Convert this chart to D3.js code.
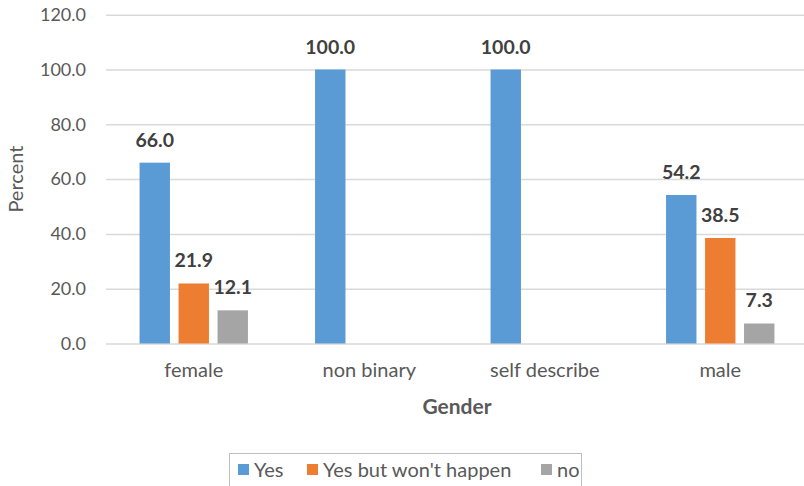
<!DOCTYPE html>
<html>
<head>
<meta charset="utf-8">
<script src="https://cdn.jsdelivr.net/npm/d3@7"></script>
<style>
  html, body { margin: 0; padding: 0; background: #fff; }
  svg { display: block; overflow: hidden; }
  text { font-family: Lato, "Open Sans", sans-serif; }
</style>
</head>
<body>
<svg id="chart" width="804" height="486"></svg>
<script>
// Survey responses by gender (percent)
const categories = ["female", "non binary", "self describe", "male"];
const seriesNames = ["Yes", "Yes but won't happen", "no"];
const yesValues = [66.0, 100.0, 100.0, 54.2];
const wontHappenValues = [21.9, null, null, 38.5];
const noValues = [12.1, null, null, 7.3];
const yTicks = [0, 20, 40, 60, 80, 100, 120];
const colors = ["#5b9bd5", "#ed7d31", "#a5a5a5"];

const seriesValues = [yesValues, wontHappenValues, noValues];

const svg = d3.select("#chart");
const plotLeft = 106, plotRight = 808, plotTop = 14.7, plotBottom = 343.5;

const x0 = d3.scaleBand().domain(categories).range([plotLeft, plotRight]).padding(0);
const x1 = d3.scaleBand().domain(seriesNames).range([-54.2, 54.2]).paddingInner(0.22).paddingOuter(0);
const y = d3.scaleLinear().domain([0, 120]).range([plotBottom, plotTop]);

// horizontal gridlines
const yAxis = d3.axisLeft(y).tickValues(yTicks).tickSize(-(plotRight - plotLeft)).tickPadding(20)
  .tickFormat(d => d3.format(".1f")(d));
const gy = svg.append("g").attr("transform", `translate(${plotLeft},0)`).call(yAxis);
gy.select(".domain").remove();
gy.selectAll(".tick line").attr("stroke", "#d9d9d9").attr("stroke-width", 1.5);
gy.selectAll(".tick text").attr("fill", "#595959").style("font-size", "18px").attr("x", -20);

// bars
const rows = [];
categories.forEach((c, i) => {
  seriesNames.forEach((s, j) => {
    const v = seriesValues[j][i];
    if (v !== null && v !== undefined) rows.push({ c, s, j, v });
  });
});

const cx = d => x0(d.c) + x0.bandwidth() / 2 + x1(d.s);

svg.append("g").selectAll("rect").data(rows).join("rect")
  .attr("x", d => cx(d))
  .attr("y", d => y(d.v))
  .attr("width", x1.bandwidth())
  .attr("height", d => y(0) - y(d.v))
  .attr("fill", d => colors[d.j]);

// value labels
svg.append("g").selectAll("text").data(rows).join("text")
  .attr("x", d => cx(d) + x1.bandwidth() / 2)
  .attr("y", d => y(d.v) - 16)
  .attr("text-anchor", "middle")
  .attr("fill", "#404040")
  .style("font-size", "19.5px")
  .style("font-weight", "bold")
  .text(d => d3.format(".1f")(d.v));

// category axis
const xAxis = d3.axisBottom(x0).tickSize(0).tickPadding(19);
const gx = svg.append("g").attr("transform", `translate(0,${plotBottom})`).call(xAxis);
gx.select(".domain").remove();
gx.selectAll(".tick text").attr("fill", "#595959").style("font-size", "20px");

// axis titles
svg.append("text")
  .attr("transform", `translate(23,${(plotTop + plotBottom) / 2}) rotate(-90)`)
  .attr("text-anchor", "middle")
  .attr("fill", "#595959")
  .style("font-size", "20px")
  .text("Percent");

svg.append("text")
  .attr("x", (plotLeft + plotRight) / 2)
  .attr("y", 414)
  .attr("text-anchor", "middle")
  .attr("fill", "#595959")
  .style("font-size", "21px")
  .style("font-weight", "bold")
  .text("Gender");

// legend
const lg = svg.append("g");
lg.append("rect").attr("x", 229.5).attr("y", 453.5).attr("width", 352).attr("height", 40)
  .attr("fill", "none").attr("stroke", "#bfbfbf").attr("stroke-width", 1);
const legendX = [238, 307, 541];
seriesNames.forEach((s, j) => {
  lg.append("rect").attr("x", legendX[j]).attr("y", 464).attr("width", 11).attr("height", 11).attr("fill", colors[j]);
  lg.append("text").attr("x", legendX[j] + 16).attr("y", 476.5)
    .attr("fill", "#595959").style("font-size", "20px").text(s);
});
</script>
</body>
</html>
